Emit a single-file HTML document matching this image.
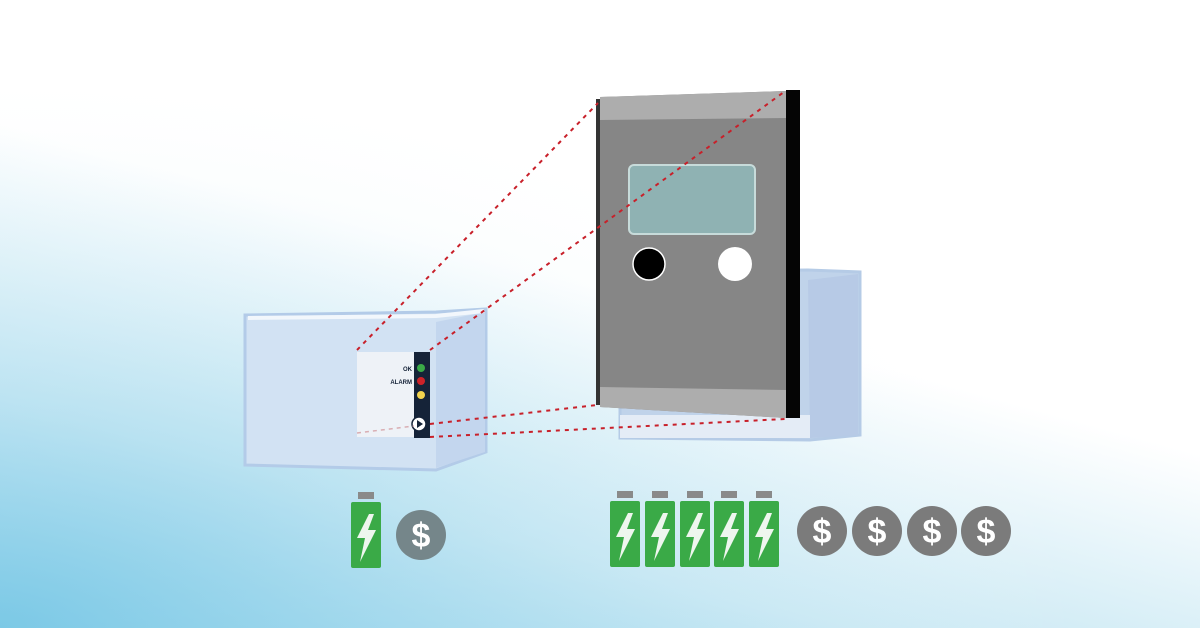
<!DOCTYPE html>
<html><head><meta charset="utf-8"><style>
html,body{margin:0;padding:0;width:1200px;height:628px;overflow:hidden;background:#fff}
svg{display:block}
text{font-family:"Liberation Sans",sans-serif;font-weight:bold}
</style></head><body>
<svg width="1200" height="628" viewBox="0 0 1200 628" xmlns="http://www.w3.org/2000/svg">
<defs>
<linearGradient id="bg" x1="0.55" y1="0.05" x2="0.05" y2="1">
<stop offset="0.36" stop-color="#ffffff"/>
<stop offset="0.72" stop-color="#c6e7f3"/>
<stop offset="1" stop-color="#7cc9e6"/>
</linearGradient>
<radialGradient id="bg2" cx="0" cy="1" r="0.9">
<stop offset="0" stop-color="#7cc9e6" stop-opacity="0.8"/>
<stop offset="1" stop-color="#ffffff" stop-opacity="0"/>
</radialGradient>
<g id="bat">
<rect x="7" y="0" width="16" height="7" fill="#8a8a8a"/>
<rect x="0" y="10" width="30" height="66" rx="2" fill="#3aaa47"/>
<path d="M18 22 L6 46 L14 46 L9 70 L25 38 L17 38 L23 22 Z" fill="#eef6ee"/>
</g>
<g id="dol">
<circle cx="0" cy="0" r="25" fill="#7b7b7b"/>
<text x="0" y="12" font-size="34" fill="#fff" text-anchor="middle">$</text>
</g>
</defs>
<rect width="1200" height="628" fill="url(#bg)"/>
<rect width="1200" height="628" fill="url(#bg2)"/>

<!-- back box -->
<path d="M620 272 L808 270 L860 272 L860 435 L810 440 L620 438 Z" fill="#c0d3ea" stroke="#b5cbe6" stroke-width="3"/>
<path d="M808 280 L858 274 L858 435 L810 438 Z" fill="#b7cae6"/>
<rect x="620" y="415" width="190" height="23" fill="#e4ecf6"/>

<!-- small box -->
<path d="M245 315 L436 312 L486 309 L486 452 L436 470 L245 465 Z" fill="#d2e2f3" stroke="#b3cbe8" stroke-width="3"/>
<path d="M436 322 L485 312 L485 452 L436 468 Z" fill="#c3d6ee"/>
<path d="M248 318 L436 316 L484 311" fill="none" stroke="#f2f7fc" stroke-width="4"/>
<rect x="357" y="352" width="58" height="85" fill="#eef2f7"/>
<rect x="414" y="352" width="16" height="86" fill="#152338"/>
<circle cx="421" cy="368" r="4" fill="#3aaa47"/>
<circle cx="421" cy="381" r="4" fill="#cc2229"/>
<circle cx="421" cy="395" r="4" fill="#f2d34e"/>
<text x="412" y="371" font-size="6" fill="#152338" text-anchor="end">OK</text>
<text x="412" y="384" font-size="6" fill="#152338" text-anchor="end">ALARM</text>
<circle cx="419" cy="424" r="7" fill="#fff" stroke="#152338" stroke-width="1.5"/>
<path d="M417 420 L423 424 L417 428 Z" fill="#152338"/>
<line x1="357" y1="433" x2="414" y2="426" stroke="#d9aeb3" stroke-width="1.5" stroke-dasharray="4 4"/>

<!-- big device -->
<rect x="596" y="99" width="5" height="306" fill="#333"/>
<path d="M600 97 L786 91 L786 418 L600 407 Z" fill="#868686"/>
<path d="M600 97 L786 91 L786 118 L600 120 Z" fill="#adadad"/>
<path d="M600 387 L786 390 L786 418 L600 407 Z" fill="#adadad"/>
<path d="M786 90 L800 90 L800 418 L786 418 Z" fill="#050505"/>
<rect x="629" y="165" width="126" height="69" rx="5" fill="#8fb2b3" stroke="#c7dbda" stroke-width="2"/>
<circle cx="649" cy="264" r="16" fill="#000" stroke="#fff" stroke-width="1.5"/>
<circle cx="735" cy="264" r="17" fill="#fff"/>

<!-- red dashed lines -->
<g stroke="#c8202a" stroke-width="2" stroke-dasharray="4 5" fill="none">
<line x1="357" y1="350" x2="598" y2="103"/>
<line x1="430" y1="350" x2="784" y2="92"/>
<line x1="430" y1="424" x2="597" y2="405"/>
<line x1="430" y1="437" x2="785" y2="419"/>
</g>

<!-- batteries -->
<use href="#bat" x="351" y="492"/>
<circle cx="421" cy="535" r="25" fill="#75868a"/>
<text x="421" y="547" font-size="34" fill="#fff" text-anchor="middle">$</text>

<use href="#bat" x="610" y="491"/>
<use href="#bat" x="645" y="491"/>
<use href="#bat" x="680" y="491"/>
<use href="#bat" x="714" y="491"/>
<use href="#bat" x="749" y="491"/>
<use href="#dol" x="822" y="531"/>
<use href="#dol" x="877" y="531"/>
<use href="#dol" x="932" y="531"/>
<use href="#dol" x="986" y="531"/>
</svg>
</body></html>
